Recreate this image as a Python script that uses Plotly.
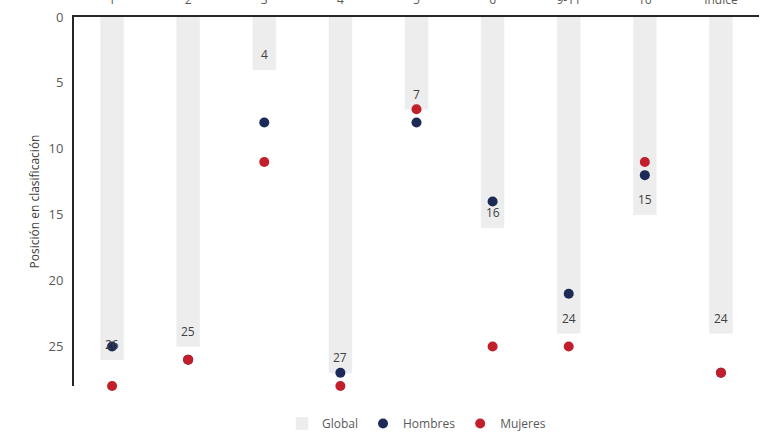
import plotly.graph_objects as go

categories = ["1", "2", "3", "4", "5", "6", "9-11", "16", "Índice"]
global_vals = [26, 25, 4, 27, 7, 16, 24, 15, 24]
hombres = [25, 26, 8, 27, 8, 14, 21, 12, 27]
mujeres = [28, 26, 11, 28, 7, 25, 25, 11, 27]

fig = go.Figure()
fig.add_trace(go.Bar(
    x=categories, y=global_vals, name="Global",
    marker=dict(color="#ECEDEC"), width=0.3,
))
fig.add_trace(go.Scatter(
    x=categories, y=hombres, name="Hombres", mode="markers",
    marker=dict(color="#1B2A56", size=10), cliponaxis=False,
))
fig.add_trace(go.Scatter(
    x=categories, y=mujeres, name="Mujeres", mode="markers",
    marker=dict(color="#C01F2B", size=10), cliponaxis=False,
))

# value labels just inside the end of each Global bar (x = category index)
for i, v in enumerate(global_vals):
    fig.add_annotation(x=i, y=v, xref="x", yref="y", text=str(v), showarrow=False,
                       yshift=15, font=dict(size=12, color="#404040"))

fig.update_layout(
    width=764, height=438,
    margin=dict(l=74, r=5, t=17, b=52, autoexpand=False),
    plot_bgcolor="white", paper_bgcolor="white",
    font=dict(family="Open Sans", color="#595959", size=12),
    showlegend=True,
    legend=dict(orientation="h", x=0.5, xanchor="center", yref="container",
                y=-0.04, yanchor="bottom",
                font=dict(size=12, color="#595959"), itemwidth=30, tracegroupgap=0),
    bargap=0.7,
)
fig.update_xaxes(
    type="category", categoryorder="array", categoryarray=categories,
    range=[-0.5, len(categories) - 0.5],
    side="top", showline=True, linecolor="#262626", linewidth=2,
    showgrid=False, ticks="", ticklabelstandoff=6, automargin=False,
    ticklabeloverflow="allow",
    tickfont=dict(size=12, color="#595959"),
)
fig.update_yaxes(
    range=[28, 0], autorange=False, tickvals=[0, 5, 10, 15, 20, 25],
    showline=True, linecolor="#262626", linewidth=2, showgrid=False,
    zeroline=False, ticks="", tickfont=dict(size=13, color="#595959"),
    ticklabelstandoff=6,
    automargin=False, ticklabeloverflow="allow",
    title=dict(text="Posición en clasificación", font=dict(size=12, color="#404040"), standoff=6),
)

fig.write_html("out.html", config={"displayModeBar": False},
               post_script="document.body.style.margin='0';")
